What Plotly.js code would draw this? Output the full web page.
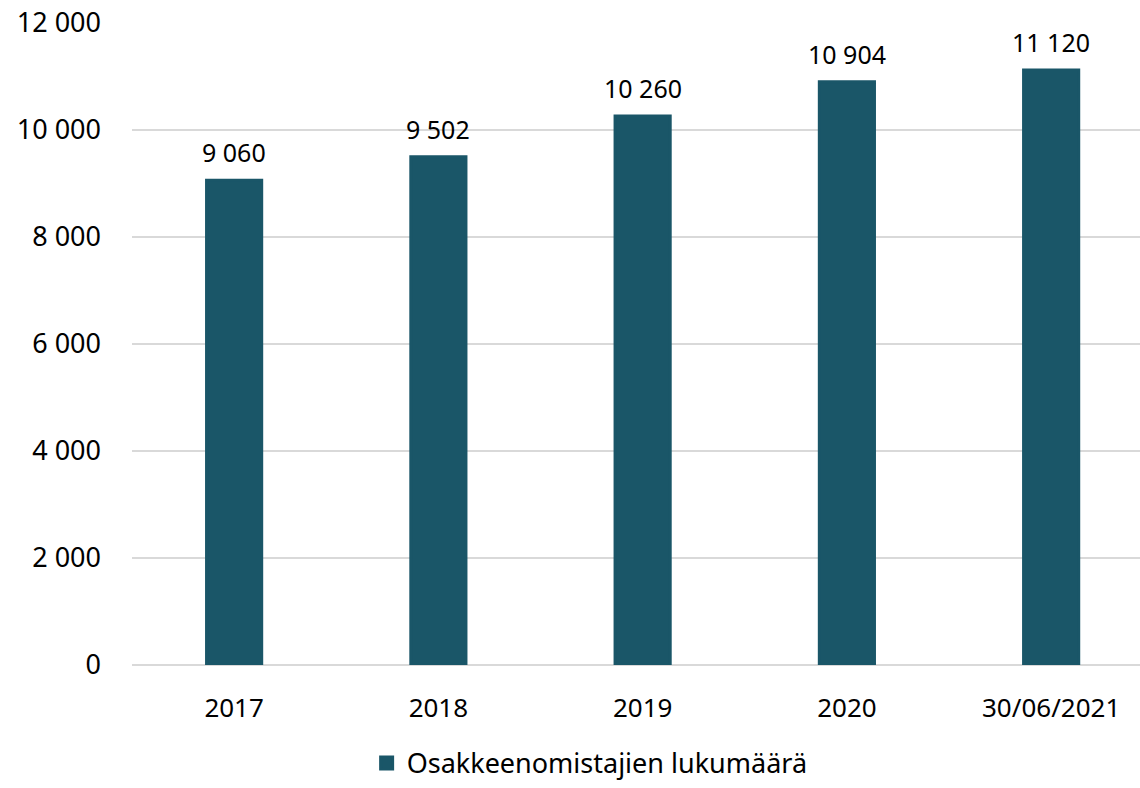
<!DOCTYPE html>
<html>
<head>
<meta charset="utf-8">
<script src="https://cdn.plot.ly/plotly-3.0.1.min.js"></script>
<style>html,body{margin:0;padding:0;background:#fff}#chart{width:1140px;height:788px}</style>
</head>
<body>
<div id="chart"></div>
<script>
const categories = ["2017", "2018", "2019", "2020", "30/06/2021"];
const values = [9060, 9502, 10260, 10904, 11120];
const seriesName = "Osakkeenomistajien lukumäärä";
const yTicks = [0, 2000, 4000, 6000, 8000, 10000, 12000];

const FONT = "Noto Sans, Open Sans, sans-serif";
const SIZE = 27;
function fmt(v) { return String(v).replace(/\B(?=(\d{3})+(?!\d))/g, " "); }

const trace = {
  type: "bar",
  x: categories,
  y: values,
  name: seriesName,
  marker: {color: "#1a5668", line: {color: "#1a5668", width: 3}},
  width: 0.27,
  hoverinfo: "skip",
  showlegend: true
};
const annotations = categories.map((c, i) => ({
  x: i, y: values[i], xref: "x", yref: "y",
  text: fmt(values[i]), showarrow: false,
  yanchor: "bottom", yshift: 9,
  font: {family: FONT, size: SIZE - 2, color: "#000"}
}));
const layout = {
  width: 1140, height: 788,
  margin: {l: 132, r: 0, t: 23, b: 117},
  separators: ", ",
  paper_bgcolor: "#fff", plot_bgcolor: "#fff",
  font: {family: FONT, size: SIZE, color: "#000"},
  annotations: annotations,
  xaxis: {
    type: "category",
    range: [-0.5, 4.435],
    showgrid: false, zeroline: false,
    showline: false,
    ticks: "", ticklabelstandoff: 25,
    tickfont: {family: FONT, size: SIZE - 1, color: "#000"}
  },
  yaxis: {
    range: [0, 12000],
    tickvals: yTicks,
    tickformat: ",d",
    showgrid: true, gridcolor: "#d9d9d9", gridwidth: 2,
    zeroline: true, zerolinecolor: "#d9d9d9", zerolinewidth: 2,
    ticks: "", ticklabelstandoff: 30,
    tickfont: {family: FONT, size: SIZE, color: "#000"}
  },
  showlegend: true,
  legend: {
    orientation: "h", x: 0.454, xanchor: "center", y: -0.115, yanchor: "top",
    font: {family: FONT, size: SIZE, color: "#000"},
    itemwidth: 30
  }
};
Plotly.newPlot("chart", [trace], layout, {displayModeBar: false, staticPlot: true});
</script>
</body>
</html>
